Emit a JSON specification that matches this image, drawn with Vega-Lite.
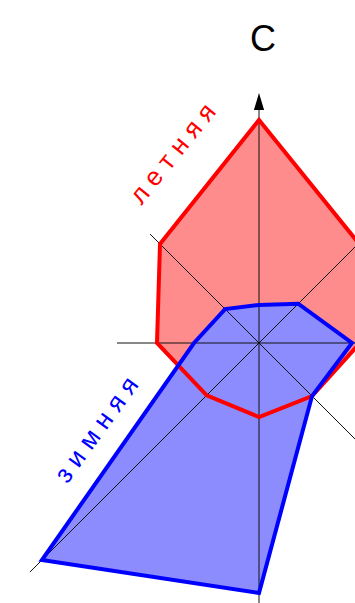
{
  "$schema": "https://vega.github.io/schema/vega-lite/v6.json",
  "width": 355,
  "height": 603,
  "autosize": "none",
  "padding": 0,
  "background": "white",
  "config": {"view": {"stroke": null}},
  "datasets": {
    "rose": [
      {"season": "летняя", "dir": 0, "value": 22.3},
      {"season": "летняя", "dir": 45, "value": 14.1},
      {"season": "летняя", "dir": 90, "value": 10.1},
      {"season": "летняя", "dir": 135, "value": 7.5},
      {"season": "летняя", "dir": 180, "value": 7.4},
      {"season": "летняя", "dir": 225, "value": 7.4},
      {"season": "летняя", "dir": 270, "value": 10.2},
      {"season": "летняя", "dir": 315, "value": 14.0},
      {"season": "зимняя", "dir": 0, "value": 3.8},
      {"season": "зимняя", "dir": 45, "value": 5.55},
      {"season": "зимняя", "dir": 90, "value": 9.3},
      {"season": "зимняя", "dir": 135, "value": 7.5},
      {"season": "зимняя", "dir": 180, "value": 25.0},
      {"season": "зимняя", "dir": 225, "value": 30.7},
      {"season": "зимняя", "dir": 270, "value": 6.5},
      {"season": "зимняя", "dir": 315, "value": 4.8}
    ],
    "axes": [
      {"dir": 0, "ahead": 23.5, "behind": 27},
      {"dir": 90, "ahead": 12, "behind": 14.2},
      {"dir": 45, "ahead": 15, "behind": 32.4},
      {"dir": 135, "ahead": 15.4, "behind": 15.4}
    ],
    "arrow": [{"dir": 0, "value": 24.15}],
    "labels": [
      {"text": "С", "x": 0.4, "y": 30.3},
      {"text": "л е т н я я", "x": -8.6, "y": 18.9},
      {"text": "з и м н я я", "x": -16.2, "y": -8.7}
    ]
  },
  "layer": [
    {
      "data": {"name": "rose"},
      "transform": [
        {"filter": "datum.season === 'летняя'"},
        {"calculate": "datum.value * sin(datum.dir * PI / 180)", "as": "x"},
        {"calculate": "datum.value * cos(datum.dir * PI / 180)", "as": "y"}
      ],
      "mark": {"type": "line", "interpolate": "linear-closed", "fill": "#ff8c8c", "stroke": "transparent", "strokeWidth": 0, "clip": true},
      "encoding": {
        "x": {"field": "x", "type": "quantitative", "scale": {"domain": [-25.9, 9.6], "nice": false, "zero": false}, "axis": null},
        "y": {"field": "y", "type": "quantitative", "scale": {"domain": [-26.0, 34.3], "nice": false, "zero": false}, "axis": null},
        "order": {"field": "dir", "type": "quantitative"}
      }
    },
    {
      "data": {"name": "rose"},
      "transform": [
        {"filter": "datum.season === 'зимняя'"},
        {"calculate": "datum.value * sin(datum.dir * PI / 180)", "as": "x"},
        {"calculate": "datum.value * cos(datum.dir * PI / 180)", "as": "y"}
      ],
      "mark": {"type": "line", "interpolate": "linear-closed", "fill": "#8c8cff", "stroke": "transparent", "strokeWidth": 0, "clip": true},
      "encoding": {
        "x": {"field": "x", "type": "quantitative", "axis": null},
        "y": {"field": "y", "type": "quantitative", "axis": null},
        "order": {"field": "dir", "type": "quantitative"}
      }
    },
    {
      "data": {"name": "axes"},
      "transform": [
        {"calculate": "datum.ahead * sin(datum.dir * PI / 180)", "as": "x"},
        {"calculate": "datum.ahead * cos(datum.dir * PI / 180)", "as": "y"},
        {"calculate": "-datum.behind * sin(datum.dir * PI / 180)", "as": "x2"},
        {"calculate": "-datum.behind * cos(datum.dir * PI / 180)", "as": "y2"}
      ],
      "mark": {"type": "rule", "color": "#111", "strokeWidth": 1, "clip": true},
      "encoding": {
        "x": {"field": "x", "type": "quantitative", "axis": null},
        "y": {"field": "y", "type": "quantitative", "axis": null},
        "x2": {"field": "x2"},
        "y2": {"field": "y2"}
      }
    },
    {
      "data": {"name": "rose"},
      "transform": [
        {"filter": "datum.season === 'летняя'"},
        {"calculate": "datum.value * sin(datum.dir * PI / 180)", "as": "x"},
        {"calculate": "datum.value * cos(datum.dir * PI / 180)", "as": "y"}
      ],
      "mark": {"type": "line", "interpolate": "linear-closed", "stroke": "#ff0000", "strokeWidth": 4, "strokeJoin": "miter", "clip": true},
      "encoding": {
        "x": {"field": "x", "type": "quantitative", "axis": null},
        "y": {"field": "y", "type": "quantitative", "axis": null},
        "order": {"field": "dir", "type": "quantitative"}
      }
    },
    {
      "data": {"name": "rose"},
      "transform": [
        {"filter": "datum.season === 'зимняя'"},
        {"calculate": "datum.value * sin(datum.dir * PI / 180)", "as": "x"},
        {"calculate": "datum.value * cos(datum.dir * PI / 180)", "as": "y"}
      ],
      "mark": {"type": "line", "interpolate": "linear-closed", "stroke": "#0000ff", "strokeWidth": 4, "strokeJoin": "miter", "clip": true},
      "encoding": {
        "x": {"field": "x", "type": "quantitative", "axis": null},
        "y": {"field": "y", "type": "quantitative", "axis": null},
        "order": {"field": "dir", "type": "quantitative"}
      }
    },
    {
      "data": {"name": "arrow"},
      "transform": [
        {"calculate": "datum.value * sin(datum.dir * PI / 180)", "as": "x"},
        {"calculate": "datum.value * cos(datum.dir * PI / 180)", "as": "y"}
      ],
      "mark": {"type": "point", "shape": "M-0.6,1L0,-1L0.6,1Z", "filled": true, "color": "#000", "opacity": 1, "size": 289},
      "encoding": {
        "x": {"field": "x", "type": "quantitative", "axis": null},
        "y": {"field": "y", "type": "quantitative", "axis": null}
      }
    },
    {
      "data": {"name": "labels"},
      "transform": [{"filter": "datum.text === 'С'"}],
      "mark": {"type": "text", "font": "Liberation Sans", "fontSize": 36, "color": "#000", "align": "center", "baseline": "middle"},
      "encoding": {
        "x": {"field": "x", "type": "quantitative", "axis": null},
        "y": {"field": "y", "type": "quantitative", "axis": null},
        "text": {"field": "text"}
      }
    },
    {
      "data": {"name": "labels"},
      "transform": [{"filter": "datum.text === 'л е т н я я'"}],
      "mark": {"type": "text", "font": "Liberation Sans", "fontSize": 26, "color": "#ff0000", "align": "center", "baseline": "middle", "angle": -51},
      "encoding": {
        "x": {"field": "x", "type": "quantitative", "axis": null},
        "y": {"field": "y", "type": "quantitative", "axis": null},
        "text": {"field": "text"}
      }
    },
    {
      "data": {"name": "labels"},
      "transform": [{"filter": "datum.text === 'з и м н я я'"}],
      "mark": {"type": "text", "font": "Liberation Sans", "fontSize": 26, "color": "#0000ff", "align": "center", "baseline": "middle", "angle": -54},
      "encoding": {
        "x": {"field": "x", "type": "quantitative", "axis": null},
        "y": {"field": "y", "type": "quantitative", "axis": null},
        "text": {"field": "text"}
      }
    }
  ]
}
